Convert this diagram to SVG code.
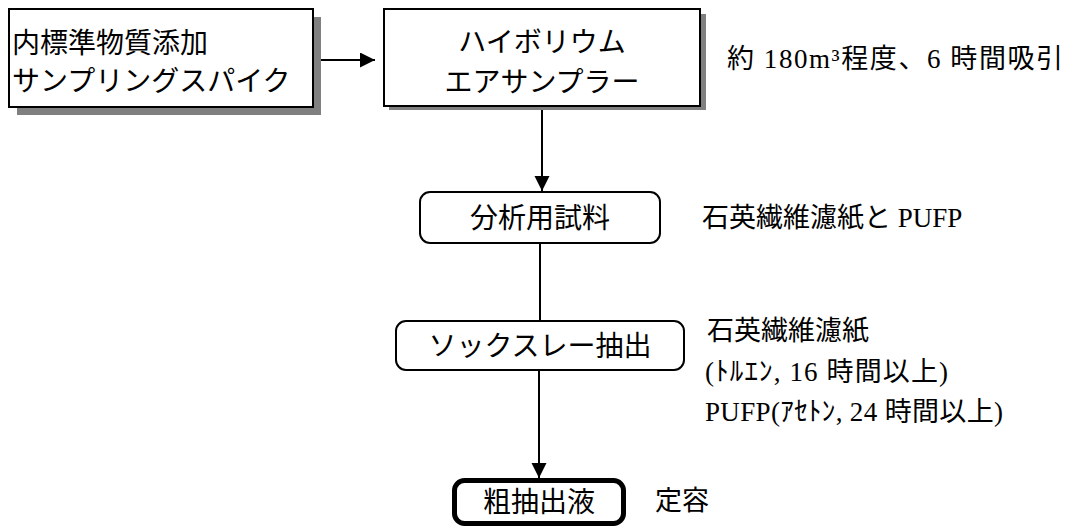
<svg xmlns="http://www.w3.org/2000/svg" width="1074" height="528" viewBox="0 0 1074 528">
  <style>
    .box { fill: #ffffff; stroke: #000000; stroke-width: 2; }
    .shadow { fill: #808080; stroke: none; }
    .bold { fill: #ffffff; stroke: #000000; stroke-width: 5; }
    .t { font-family: "Liberation Serif", "Noto Sans CJK JP", serif; font-size: 27px; fill: #000000; }
    .tb { font-family: "Liberation Serif", "Noto Sans CJK JP", serif; font-size: 28px; fill: #000000; }
    .mid { text-anchor: middle; }
    .conn { stroke: #000000; stroke-width: 2; fill: none; }
  </style>
  <defs>
    <marker id="arrow" markerUnits="userSpaceOnUse" markerWidth="16" markerHeight="16" refX="15" refY="7.5" orient="auto">
      <path d="M0,0 L15,7.5 L0,15 Z" fill="#000000"/>
    </marker>
  </defs>
  <rect width="1074" height="528" fill="#ffffff"/>

  <g id="connectors">
    <line class="conn" x1="321" y1="60" x2="375" y2="60" marker-end="url(#arrow)"/>
    <line class="conn" x1="542" y1="110" x2="542" y2="191" marker-end="url(#arrow)"/>
    <line class="conn" x1="540" y1="243" x2="540" y2="321"/>
    <line class="conn" x1="539" y1="370" x2="539" y2="478" marker-end="url(#arrow)"/>
  </g>

  <g id="node-spike">
    <rect class="shadow" x="17" y="17" width="304" height="98"/>
    <rect class="box" x="9" y="9" width="304" height="98"/>
    <text class="tb" x="12" y="53">内標準物質添加</text>
    <text class="tb" x="12" y="91">サンプリングスパイク</text>
  </g>

  <g id="node-sampler">
    <rect class="shadow" x="389" y="14" width="317" height="96"/>
    <rect class="box" x="384" y="9" width="316" height="97"/>
    <text class="tb mid" x="542" y="52">ハイボリウム</text>
    <text class="tb mid" x="542" y="92">エアサンプラー</text>
  </g>

  <g id="note-sampling">
    <text class="t" x="727" y="68" textLength="336" lengthAdjust="spacing">約 180m³程度、6 時間吸引</text>
  </g>

  <g id="node-sample">
    <rect class="box" x="420" y="192" width="240" height="51" rx="10"/>
    <text class="tb mid" x="540" y="228">分析用試料</text>
  </g>

  <g id="note-sample">
    <text class="t" x="702" y="227">石英繊維濾紙と PUFP</text>
  </g>

  <g id="node-soxhlet">
    <rect class="box" x="396" y="321" width="288" height="49" rx="10"/>
    <text class="tb mid" x="540" y="356">ソックスレー抽出</text>
  </g>

  <g id="note-soxhlet">
    <text class="t" x="707" y="340">石英繊維濾紙</text>
    <text class="t" x="705" y="381" textLength="243" lengthAdjust="spacing">(ﾄﾙｴﾝ, 16 時間以上)</text>
    <text class="t" x="705" y="421" textLength="298" lengthAdjust="spacing">PUFP(ｱｾﾄﾝ, 24 時間以上)</text>
  </g>

  <g id="node-crude">
    <rect class="bold" x="454.5" y="480.5" width="169" height="43" rx="10"/>
    <text class="tb mid" x="539" y="512">粗抽出液</text>
  </g>

  <g id="note-crude">
    <text class="t" x="655" y="510">定容</text>
  </g>
</svg>
